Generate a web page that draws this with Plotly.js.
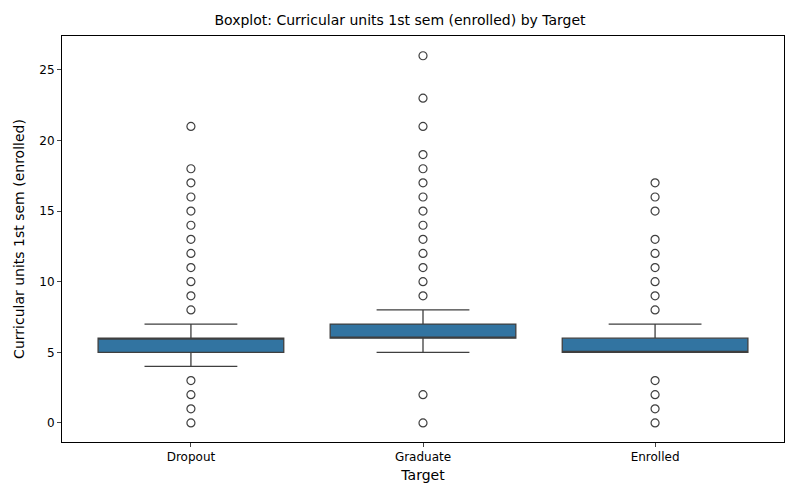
<!DOCTYPE html>
<html>
<head>
<script src="https://cdn.plot.ly/plotly-3.0.1.min.js"></script>
<style>body{margin:0}</style>
</head>
<body>
<div id="chart" style="width:800px;height:500px"></div>
<script>
var targets = ['Dropout', 'Graduate', 'Enrolled']
var q1 = [5, 6, 5]
var medians = [6, 6, 5]
var q3 = [6, 7, 6]
var lowFence = [4, 5, 5]
var highFence = [7, 8, 7]
var outliers = [
    [0, 1, 2, 3, 8, 9, 10, 11, 12, 13, 14, 15, 16, 17, 18, 21],
    [0, 2, 9, 10, 11, 12, 13, 14, 15, 16, 17, 18, 19, 21, 23, 26],
    [0, 1, 2, 3, 8, 9, 10, 11, 12, 13, 15, 16, 17]
]

var ox = [], oy = []
outliers.forEach(function (list, i) {
    list.forEach(function (v) { ox.push(targets[i]); oy.push(v) })
})

var data = [
    {
        type: 'box',
        x: targets,
        q1: q1, median: medians, q3: q3,
        lowerfence: lowFence, upperfence: highFence,
        fillcolor: '#3274a1',
        line: {color: '#3f3f3f', width: 1.3},
        whiskerwidth: 0.5,
        width: 0.8,
        hoverinfo: 'y'
    },
    {
        type: 'scatter', mode: 'markers',
        x: ox, y: oy,
        marker: {symbol: 'circle-open', size: 8, color: '#3f3f3f', line: {width: 1.2}}
    }
]

var layout = {
    width: 800, height: 500,
    margin: {l: 62, r: 16, t: 36, b: 58},
    showlegend: false,
    plot_bgcolor: '#fff',
    font: {family: 'DejaVu Sans', size: 12, color: '#000'},
    title: {text: 'Boxplot: Curricular units 1st sem (enrolled) by Target', x: 0.5, y: 0.97, font: {size: 14}},
    xaxis: {
        title: {text: 'Target', standoff: 6},
        showline: true, mirror: true, linecolor: '#000', linewidth: 1,
        ticks: 'outside', ticklen: 4, showgrid: false
    },
    yaxis: {
        title: {text: 'Curricular units 1st sem (enrolled)'},
        range: [-1.35, 27.4],
        tickvals: [0, 5, 10, 15, 20, 25],
        showline: true, mirror: true, linecolor: '#000', linewidth: 1,
        ticks: 'outside', ticklen: 4, showgrid: false, zeroline: false
    }
}

Plotly.newPlot('chart', data, layout, {displayModeBar: false})
</script>
</body>
</html>
